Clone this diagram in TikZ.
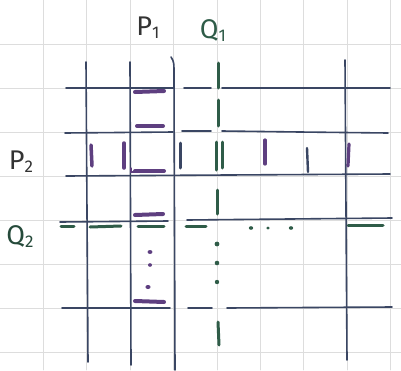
\documentclass[tikz,border=0pt]{standalone}
\usepackage{fontspec}
\setsansfont{Fira Sans}
\definecolor{ink}{HTML}{3A4663}
\definecolor{pur}{HTML}{5E3F80}
\definecolor{grn}{HTML}{2F5C48}
\definecolor{gridc}{HTML}{DDDDDD}
\newcommand{\lowsub}[1]{\raisebox{-3pt}{\fontsize{17}{17}\selectfont #1}}
\begin{document}
\begin{tikzpicture}[x=1pt,y=-1pt,line cap=round,
  gridline/.style={gridc,line width=0.8pt},
  inkline/.style={ink,line width=1.6pt},
  pbar/.style={pur,line width=4pt},
  gbar/.style={grn,line width=3pt},
  gdot/.style={grn,fill=grn},
  pdot/.style={pur,fill=pur},
  lbl/.style={font=\sffamily\fontsize{27}{27}\selectfont\color{#1},inner sep=0pt}]
\useasboundingbox (0,0) rectangle (401,370);
\fill[white] (0,0) rectangle (401,370);
% grid paper
\foreach \k in {1,...,9} \draw[gridline] ({43.4*\k},0) -- ({43.4*\k},370);
\foreach \k in {1,...,8} \draw[gridline] (0,{44*\k}) -- (401,{44*\k});
% labels
\node[lbl=black!80] (P1) at (148,28) {P\lowsub{1}};
\node[lbl=grn] (Q1) at (213,31) {Q\lowsub{1}};
\node[lbl=black!80] (P2) at (21,162) {P\lowsub{2}};
\node[lbl=grn!80!black] (Q2) at (20,237) {Q\lowsub{2}};
% vertical ink lines
\draw[inkline] (86,62) -- (88,362);
\draw[inkline] (130,62) -- (131,365);
\draw[inkline] (171,57) .. controls (174,62) .. (174,75) -- (175,370);
\draw[inkline] (345,60) -- (347,360);
% horizontal ink lines
\draw[inkline] (66,88) -- (173,88);
\draw[inkline] (184,88) -- (211,88);
\draw[inkline] (222,88) -- (390,88);
\draw[inkline] (65,133) -- (173,132);
\draw[inkline] (182,131) -- (211,131);
\draw[inkline] (222,131) -- (300,132) -- (388,133);
\draw[inkline] (66,176) -- (390,174);
\draw[inkline] (60,222) -- (168,221);
\draw[inkline] (187,220) -- (392,218);
\draw[inkline] (62,308) -- (170,308);
\draw[inkline] (188,308) -- (212,308);
\draw[inkline] (227,308) -- (392,307);
% P1 purple bars
\draw[pbar] (135,92) -- (164,91);
\draw[pbar] (137,126) -- (163,126);
\draw[pbar] (135,171) -- (164,171);
\draw[pbar] (135,215) -- (163,214);
\draw[pbar] (135,301) -- (164,302);
\draw[pur,line width=1.2pt] (131,168) -- (131,172) -- (137,172);
\fill[pdot] (150,252) ellipse (2.4 and 2);
\fill[pdot] (150,265) ellipse (2 and 1.8);
\fill[pdot] (148,287) ellipse (2.6 and 2);
% P2 vertical bars
\draw[pbar,line width=3.5pt] (91,145) -- (92,166);
\draw[pbar,line width=3.5pt] (124,143) -- (124,168);
\draw[ink,line width=3pt] (180,143) -- (180,168);
\draw[pbar,line width=3.2pt] (265,140) -- (265,164);
\draw[ink,line width=2.4pt] (307,148) -- (308,172);
\draw[pbar,line width=3.2pt] (349,144) -- (348,166);
% Q1 green
\draw[gbar] (218,63) -- (218,88);
\draw[gbar] (218,100) -- (218,126);
\draw[gbar] (216,142) -- (216,170);
\draw[gbar] (222,142) -- (222,168);
\draw[gbar] (217,190) -- (217,214);
\fill[gdot] (217,244) circle (2.4);
\fill[gdot] (217,263) circle (2.3);
\fill[gdot] (217,282) circle (2.2);
\draw[gbar] (218,322) -- (219,345);
% Q2 green
\draw[gbar] (61,226) -- (74,226);
\draw[gbar] (90,227) -- (121,226);
\draw[gbar] (138,226) -- (164,226);
\draw[gbar] (186,226) -- (206,226);
\fill[gdot] (251,228) ellipse (2.2 and 1.8);
\fill[gdot] (268,228) ellipse (1.8 and 1.5);
\fill[gdot] (291,228) ellipse (2.2 and 1.8);
\draw[gbar] (348,225) -- (383,225);
\end{tikzpicture}
\end{document}
